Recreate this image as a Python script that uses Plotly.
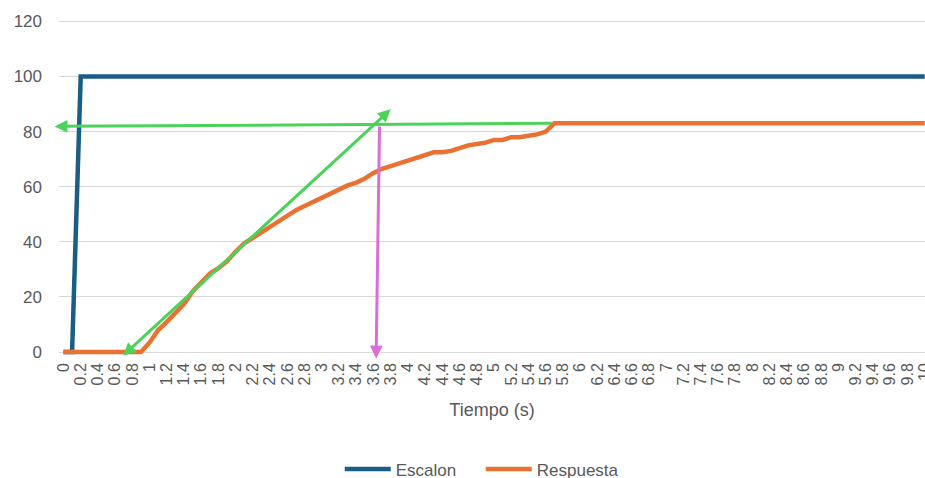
import plotly.graph_objects as go

# Time axis (s): one category every 0.1 s
tiempo = [
    0.0, 0.1, 0.2, 0.3, 0.4, 0.5, 0.6, 0.7, 0.8, 0.9,
    1.0, 1.1, 1.2, 1.3, 1.4, 1.5, 1.6, 1.7, 1.8, 1.9,
    2.0, 2.1, 2.2, 2.3, 2.4, 2.5, 2.6, 2.7, 2.8, 2.9,
    3.0, 3.1, 3.2, 3.3, 3.4, 3.5, 3.6, 3.7, 3.8, 3.9,
    4.0, 4.1, 4.2, 4.3, 4.4, 4.5, 4.6, 4.7, 4.8, 4.9,
    5.0, 5.1, 5.2, 5.3, 5.4, 5.5, 5.6, 5.7, 5.8, 5.9,
    6.0, 6.1, 6.2, 6.3, 6.4, 6.5, 6.6, 6.7, 6.8, 6.9,
    7.0, 7.1, 7.2, 7.3, 7.4, 7.5, 7.6, 7.7, 7.8, 7.9,
    8.0, 8.1, 8.2, 8.3, 8.4, 8.5, 8.6, 8.7, 8.8, 8.9,
    9.0, 9.1, 9.2, 9.3, 9.4, 9.5, 9.6, 9.7, 9.8, 9.9,
    10.0,
]

# Step input
escalon = [
    0, 0, 100, 100, 100, 100, 100, 100, 100, 100,
    100, 100, 100, 100, 100, 100, 100, 100, 100, 100,
    100, 100, 100, 100, 100, 100, 100, 100, 100, 100,
    100, 100, 100, 100, 100, 100, 100, 100, 100, 100,
    100, 100, 100, 100, 100, 100, 100, 100, 100, 100,
    100, 100, 100, 100, 100, 100, 100, 100, 100, 100,
    100, 100, 100, 100, 100, 100, 100, 100, 100, 100,
    100, 100, 100, 100, 100, 100, 100, 100, 100, 100,
    100, 100, 100, 100, 100, 100, 100, 100, 100, 100,
    100, 100, 100, 100, 100, 100, 100, 100, 100, 100,
    100,
]

# Measured process response
respuesta = [
    0, 0, 0, 0, 0, 0, 0, 0, 0, 0,
    3.5, 8, 11, 14.5, 17.5, 22, 25, 28.5, 30.5, 33,
    36.5, 39.5, 41.5, 43.5, 45.5, 47.5, 49.5, 51.5, 53, 54.5,
    56, 57.5, 59, 60.5, 61.5, 63, 65, 66.5, 67.5, 68.5,
    69.5, 70.5, 71.5, 72.5, 72.5, 73, 74, 75, 75.5, 76,
    77, 77, 78, 78, 78.5, 79, 80, 83, 83, 83,
    83, 83, 83, 83, 83, 83, 83, 83, 83, 83,
    83, 83, 83, 83, 83, 83, 83, 83, 83, 83,
    83, 83, 83, 83, 83, 83, 83, 83, 83, 83,
    83, 83, 83, 83, 83, 83, 83, 83, 83, 83,
    83,
]

# Category labels shown on the axis (every second category)
etiquetas_t = [
    "0", "0.2", "0.4", "0.6", "0.8", "1", "1.2", "1.4", "1.6", "1.8",
    "2", "2.2", "2.4", "2.6", "2.8", "3", "3.2", "3.4", "3.6", "3.8",
    "4", "4.2", "4.4", "4.6", "4.8", "5", "5.2", "5.4", "5.6", "5.8",
    "6", "6.2", "6.4", "6.6", "6.8", "7", "7.2", "7.4", "7.6", "7.8",
    "8", "8.2", "8.4", "8.6", "8.8", "9", "9.2", "9.4", "9.6", "9.8",
    "10",
]
posiciones_t = tiempo[::2]

# Graphical construction (tangent, final value, time marker)
valor_final = (5.67, 83.0, -0.12, 81.9)
tangente = (3.80, 88.1, 0.674, -1.8)
marca_t = (3.63, -2.3, 3.67, 82.4)

AZUL = "#1B5E84"
NARANJA = "#E97132"
VERDE = "#4CD25A"
MAGENTA = "#D96FD6"
GRIS_TXT = "#595959"
GRIS_REJ = "#D9D9D9"
FUENTE = "Liberation Sans, Arial, sans-serif"

fig = go.Figure()
fig.add_trace(go.Scatter(
    x=tiempo, y=escalon, mode="lines", name="Escalon",
    line=dict(color=AZUL, width=4.5),
))
fig.add_trace(go.Scatter(
    x=tiempo, y=respuesta, mode="lines", name="Respuesta",
    line=dict(color=NARANJA, width=4.5),
))

# Horizontal arrow towards the y axis at the final value
fig.add_annotation(
    x=valor_final[0], y=valor_final[1], ax=valor_final[2], ay=valor_final[3],
    xref="x", yref="y", axref="x", ayref="y", text="",
    showarrow=True, arrowside="start", startarrowhead=2, startarrowsize=0.85,
    arrowhead=2, arrowsize=0.85, arrowwidth=3, arrowcolor=VERDE,
)
# Tangent line with heads on both ends
fig.add_annotation(
    x=tangente[0], y=tangente[1], ax=tangente[2], ay=tangente[3],
    xref="x", yref="y", axref="x", ayref="y", text="",
    showarrow=True, arrowside="end+start", arrowhead=2, startarrowhead=2,
    arrowsize=0.85, startarrowsize=0.85, arrowwidth=3, arrowcolor=VERDE,
)
# Vertical marker down to the time axis
fig.add_annotation(
    x=marca_t[0], y=marca_t[1], ax=marca_t[2], ay=marca_t[3],
    xref="x", yref="y", axref="x", ayref="y", text="",
    showarrow=True, arrowside="end", arrowhead=2, arrowsize=0.85,
    arrowwidth=3, arrowcolor=MAGENTA,
)

fig.update_layout(
    width=925, height=478,
    margin=dict(l=59, r=0, t=20, b=119, autoexpand=False),
    paper_bgcolor="white", plot_bgcolor="white",
    font=dict(family=FUENTE, color=GRIS_TXT, size=16),
    showlegend=True,
    legend=dict(
        orientation="h", x=0.487, xanchor="center", y=-0.273, yanchor="top",
        font=dict(size=17, color=GRIS_TXT), itemwidth=46,
        entrywidth=80, entrywidthmode="pixels",
        bgcolor="rgba(0,0,0,0)",
    ),
)
fig.update_xaxes(
    range=[-0.052, 10.003], showgrid=False, zeroline=False, automargin=False,
    tickmode="array", tickvals=posiciones_t, ticktext=etiquetas_t,
    tickangle=-90, tickfont=dict(size=16, color=GRIS_TXT),
    ticklabeloverflow="allow",
    showline=False, ticks="",
    title=dict(text="Tiempo (s)", font=dict(size=18, color=GRIS_TXT), standoff=18),
)
fig.update_yaxes(
    range=[-2.5, 120.5], tick0=0, dtick=20, showgrid=True, automargin=False,
    gridcolor=GRIS_REJ, gridwidth=1, zeroline=False, showline=False,
    ticks="", ticklabelstandoff=16, tickfont=dict(size=17, color=GRIS_TXT),
)

fig.write_html("out.html")
